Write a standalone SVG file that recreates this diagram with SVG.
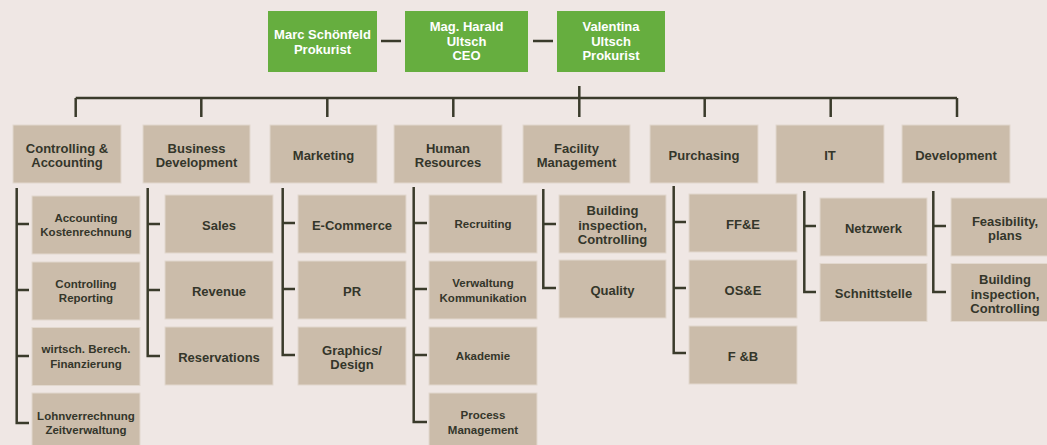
<svg xmlns="http://www.w3.org/2000/svg" width="1047" height="445" viewBox="0 0 1047 445">
<style>
.bg{fill:#efe7e4}
.top rect{fill:#66ae3f}
.top text{fill:#ffffff;font-size:13px}
.box{fill:#cbbcaa;stroke:#e2d8ce;stroke-width:1}
text{font-family:"Liberation Sans",Arial,sans-serif;font-weight:bold;text-anchor:middle;fill:#34362a;font-size:13px}
.s{font-size:11.5px}
.ln{fill:none;stroke:#3a3b2b;stroke-width:2.5;stroke-linecap:butt;stroke-linejoin:miter}
</style>
<rect class="bg" x="0" y="0" width="1047" height="445"/>

<g id="connectors" class="ln">
  <path d="M381,41H401M533,41H553"/>
  <path d="M75.7,98H957"/>
  <path d="M579.3,86V117"/>
  <path d="M75.7,98V117M201.3,98V117M327.3,98V117M453.3,98V117M704.7,98V117M830.7,98V117M957,98V117"/>
  <path d="M29,224H16.7V188M16.7,290H29M16.7,356H29M16.7,224V423H29"/>
  <path d="M147.7,188V356H160M147.7,224H160M147.7,290H160"/>
  <path d="M282.7,188V355H295M282.7,223H295M282.7,289H295"/>
  <path d="M413.7,187V422H427M413.7,223H427M413.7,289H427M413.7,355H427"/>
  <path d="M543.3,189V288H556M543.3,224H556"/>
  <path d="M673.7,186V353H686M673.7,222H686M673.7,288H686"/>
  <path d="M804.3,191V292H816M804.3,226H816"/>
  <path d="M933.3,191V292H946M933.3,226H946"/>
</g>

<g id="top-schoenfeld" class="top"><rect x="268" y="11" width="109" height="61"/><text x="322.5" y="39">Marc Schönfeld</text><text x="322.5" y="53.5">Prokurist</text></g>
<g id="top-harald" class="top"><rect x="405" y="11" width="123" height="61"/><text x="466.5" y="31">Mag. Harald</text><text x="466.5" y="45.5">Ultsch</text><text x="466.5" y="60">CEO</text></g>
<g id="top-valentina" class="top"><rect x="557" y="11" width="108" height="61"/><text x="611" y="31">Valentina</text><text x="611" y="45.5">Ultsch</text><text x="611" y="60">Prokurist</text></g>

<g id="controlling"><rect class="box" x="13" y="125" width="108" height="58"/><text x="67" y="153">Controlling &amp;</text><text x="67" y="167">Accounting</text></g>
<g id="business-development"><rect class="box" x="143" y="125" width="107" height="58"/><text x="196.5" y="153">Business</text><text x="196.5" y="167">Development</text></g>
<g id="marketing"><rect class="box" x="270" y="125" width="107" height="58"/><text x="323.5" y="160">Marketing</text></g>
<g id="human-resources"><rect class="box" x="394" y="125" width="108" height="58"/><text x="448" y="153">Human</text><text x="448" y="167">Resources</text></g>
<g id="facility-management"><rect class="box" x="523" y="125" width="107" height="58"/><text x="576.5" y="153">Facility</text><text x="576.5" y="167">Management</text></g>
<g id="purchasing"><rect class="box" x="650" y="125" width="108" height="58"/><text x="704" y="160">Purchasing</text></g>
<g id="it"><rect class="box" x="776" y="125" width="108" height="58"/><text x="830" y="160">IT</text></g>
<g id="development"><rect class="box" x="902" y="125" width="108" height="58"/><text x="956" y="160">Development</text></g>

<g id="c-accounting"><rect class="box" x="32" y="196" width="108" height="58"/><text class="s" x="86" y="221.5">Accounting</text><text class="s" x="86" y="236">Kostenrechnung</text></g>
<g id="c-controlling"><rect class="box" x="32" y="262" width="108" height="58"/><text class="s" x="86" y="287.5">Controlling</text><text class="s" x="86" y="302">Reporting</text></g>
<g id="c-wirtsch"><rect class="box" x="32" y="327.5" width="108" height="58"/><text class="s" x="86" y="353">wirtsch. Berech.</text><text class="s" x="86" y="367.5">Finanzierung</text></g>
<g id="c-lohn"><rect class="box" x="32" y="393" width="108" height="58"/><text class="s" x="86" y="419.5">Lohnverrechnung</text><text class="s" x="86" y="434">Zeitverwaltung</text></g>

<g id="bd-sales"><rect class="box" x="165" y="195" width="108" height="58"/><text x="219" y="230">Sales</text></g>
<g id="bd-revenue"><rect class="box" x="165" y="261" width="108" height="58"/><text x="219" y="296">Revenue</text></g>
<g id="bd-reservations"><rect class="box" x="165" y="327" width="108" height="58"/><text x="219" y="362">Reservations</text></g>

<g id="m-ecommerce"><rect class="box" x="298" y="195" width="108" height="58"/><text x="352" y="230">E-Commerce</text></g>
<g id="m-pr"><rect class="box" x="298" y="261" width="108" height="58"/><text x="352" y="296">PR</text></g>
<g id="m-graphics"><rect class="box" x="298" y="327" width="108" height="58"/><text x="352" y="355">Graphics/</text><text x="352" y="369">Design</text></g>

<g id="hr-recruiting"><rect class="box" x="429" y="195" width="108" height="58"/><text class="s" x="483" y="228">Recruiting</text></g>
<g id="hr-verwaltung"><rect class="box" x="429" y="261" width="108" height="58"/><text class="s" x="483" y="287">Verwaltung</text><text class="s" x="483" y="301.5">Kommunikation</text></g>
<g id="hr-akademie"><rect class="box" x="429" y="327" width="108" height="58"/><text class="s" x="483" y="360">Akademie</text></g>
<g id="hr-process"><rect class="box" x="429" y="393" width="108" height="58"/><text class="s" x="483" y="419">Process</text><text class="s" x="483" y="433.5">Management</text></g>

<g id="f-building"><rect class="box" x="559" y="195" width="107" height="58"/><text x="612.5" y="215">Building</text><text x="612.5" y="229.5">inspection,</text><text x="612.5" y="244">Controlling</text></g>
<g id="f-quality"><rect class="box" x="559" y="260" width="107" height="58"/><text x="612.5" y="294.5">Quality</text></g>

<g id="p-ffe"><rect class="box" x="689" y="194" width="108" height="58"/><text x="743" y="228.5">FF&amp;E</text></g>
<g id="p-ose"><rect class="box" x="689" y="260" width="108" height="58"/><text x="743" y="294.5">OS&amp;E</text></g>
<g id="p-fb"><rect class="box" x="689" y="326" width="108" height="58"/><text x="743" y="360.5">F &amp;B</text></g>

<g id="it-netzwerk"><rect class="box" x="820" y="198" width="107" height="58"/><text x="873.5" y="232.5">Netzwerk</text></g>
<g id="it-schnittstelle"><rect class="box" x="820" y="263.5" width="107" height="58"/><text x="873.5" y="298">Schnittstelle</text></g>

<g id="d-feasibility"><rect class="box" x="951" y="198" width="108" height="58"/><text x="1005" y="225.5">Feasibility,</text><text x="1005" y="240">plans</text></g>
<g id="d-building"><rect class="box" x="951" y="263.5" width="108" height="58"/><text x="1005" y="284">Building</text><text x="1005" y="298.5">inspection,</text><text x="1005" y="313">Controlling</text></g>
</svg>
